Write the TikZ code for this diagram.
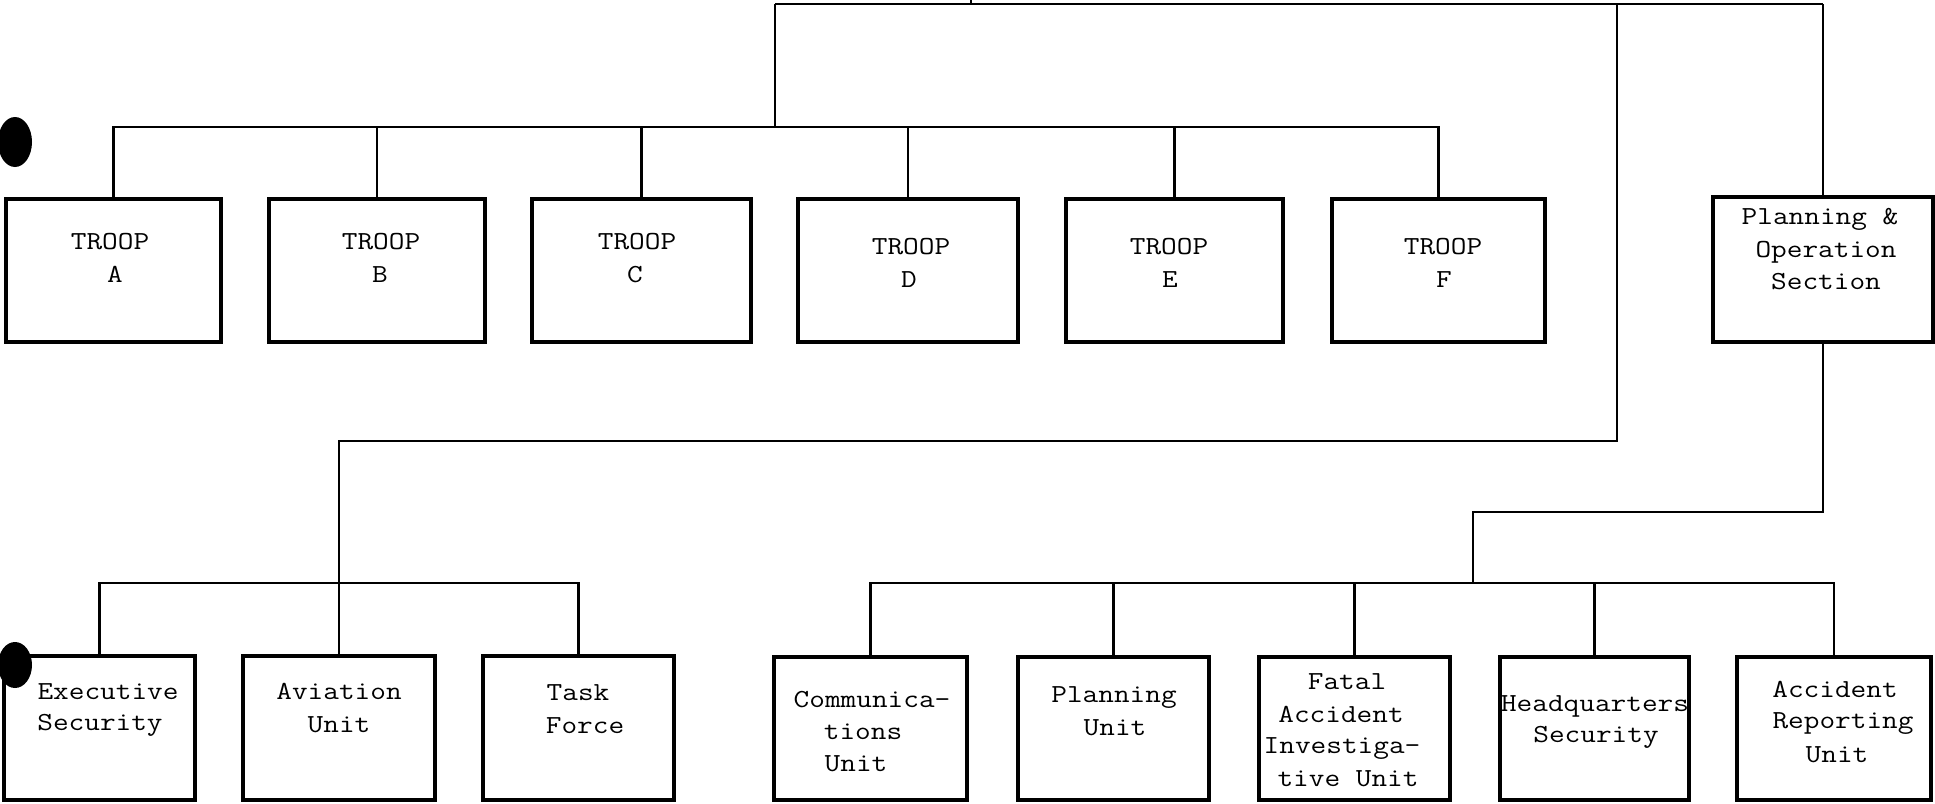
\documentclass[tikz,border=0pt]{standalone}
\usepackage{fontspec}
\begin{document}
\begin{tikzpicture}[x=1pt,y=-1pt,
  box/.style={draw=black, line width=3.2pt, minimum height=143pt, inner sep=0pt},
  conn/.style={draw=black, line width=2.2pt},
  txt/.style={font=\ttfamily\fontsize{26}{32}\selectfont, inner sep=0pt, anchor=base, xscale=1.17}]
\useasboundingbox (0,0) rectangle (1935,803);
\fill[white] (0,0) rectangle (1935,803);

% troop boxes
\node[box, minimum width=215pt] (tA) at (113.5,270.5) {};
\node[box, minimum width=216pt] (tB) at (377,270.5) {};
\node[box, minimum width=219pt] (tC) at (641.5,270.5) {};
\node[box, minimum width=220pt] (tD) at (908,270.5) {};
\node[box, minimum width=217pt] (tE) at (1174.5,270.5) {};
\node[box, minimum width=213pt] (tF) at (1438.5,270.5) {};
\node[box, minimum width=220pt, minimum height=145pt] (PO) at (1823,269.5) {};

% lower boxes
\node[box, minimum width=191pt, minimum height=144pt] (ex) at (99.5,728) {};
\node[box, minimum width=192pt, minimum height=144pt] (av) at (339,728) {};
\node[box, minimum width=191pt, minimum height=144pt] (tf) at (578.5,728) {};
\node[box, minimum width=193pt, minimum height=143pt] (cu) at (870.5,728.5) {};
\node[box, minimum width=191pt, minimum height=143pt] (pu) at (1113.5,728.5) {};
\node[box, minimum width=191pt, minimum height=143pt] (fa) at (1354.5,728.5) {};
\node[box, minimum width=189pt, minimum height=143pt] (hq) at (1594.5,728.5) {};
\node[box, minimum width=194pt, minimum height=143pt] (ar) at (1834,728.5) {};

% junction coordinates
\coordinate (top) at (971,0);
\coordinate (topj) at (971,4);
\coordinate (tl) at (775,4);
\coordinate (tr) at (1823,4);
\coordinate (j2) at (1617,4);
\coordinate (troopbus) at (775,127);
\coordinate (k2) at (1617,441);
\coordinate (lb) at (339,583);
\coordinate (k3) at (1823,512);
\coordinate (rb) at (1473,583);

% connectors
\draw[conn] (top) -- (topj);
\draw[conn] (tl) -- (tr);
\draw[conn] (tl) -- (troopbus);
\foreach \n in {tA,tB,tC,tD,tE,tF} \draw[conn] (troopbus) -| (\n.north);
\draw[conn] (tr) -- (PO.north);
\draw[conn] (j2) -- (k2) -| (av.north);
\draw[conn] (lb) -| (ex.north);
\draw[conn] (lb) -| (tf.north);
\draw[conn] (PO.south) -- (k3) -| (rb);
\foreach \n in {cu,pu,fa,hq,ar} \draw[conn] (rb) -| (\n.north);

% punch holes
\fill[black] (15,142) ellipse [x radius=17pt, y radius=25pt];
\fill[black] (15,665) ellipse [x radius=17pt, y radius=23pt];

% texts
\node[txt] (tA1) at (110,249) {TROOP};
\node[txt] (tA2) at (115,282) {A};
\node[txt] (tB1) at (381,249) {TROOP};
\node[txt] (tB2) at (380,282) {B};
\node[txt] (tC1) at (637,249) {TROOP};
\node[txt] (tC2) at (635,282) {C};
\node[txt] (tD1) at (911,254) {TROOP};
\node[txt] (tD2) at (909,287) {D};
\node[txt] (tE1) at (1169,254) {TROOP};
\node[txt] (tE2) at (1170,287) {E};
\node[txt] (tF1) at (1443,254) {TROOP};
\node[txt] (tF2) at (1444,287) {F};
\node[txt] (PO1) at (1820,224) {Planning \&};
\node[txt] (PO2) at (1826,257) {Operation};
\node[txt] (PO3) at (1826,289) {Section};

\node[txt] (ex1) at (108,699) {Executive};
\node[txt] (ex2) at (100,730) {Security};
\node[txt] (av1) at (339,699) {Aviation};
\node[txt] (av2) at (339,732) {Unit};
\node[txt] (tf1) at (578,700) {Task};
\node[txt] (tf2) at (585,733) {Force};
\node[txt] (cu1) at (872,707) {Communica-};
\node[txt] (cu2) at (863,739) {tions};
\node[txt] (cu3) at (856,771) {Unit};
\node[txt] (pu1) at (1114,702) {Planning};
\node[txt] (pu2) at (1115,735) {Unit};
\node[txt] (fa1) at (1347,689) {Fatal};
\node[txt] (fa2) at (1341,722) {Accident};
\node[txt] (fa3) at (1342,753) {Investiga-};
\node[txt] (fa4) at (1348,786) {tive Unit};
\node[txt] (hq1) at (1595,711) {Headquarters};
\node[txt] (hq2) at (1596,742) {Security};
\node[txt] (ar1) at (1835,697) {Accident};
\node[txt] (ar2) at (1843,728) {Reporting};
\node[txt] (ar3) at (1837,762) {Unit};
\end{tikzpicture}
\end{document}
